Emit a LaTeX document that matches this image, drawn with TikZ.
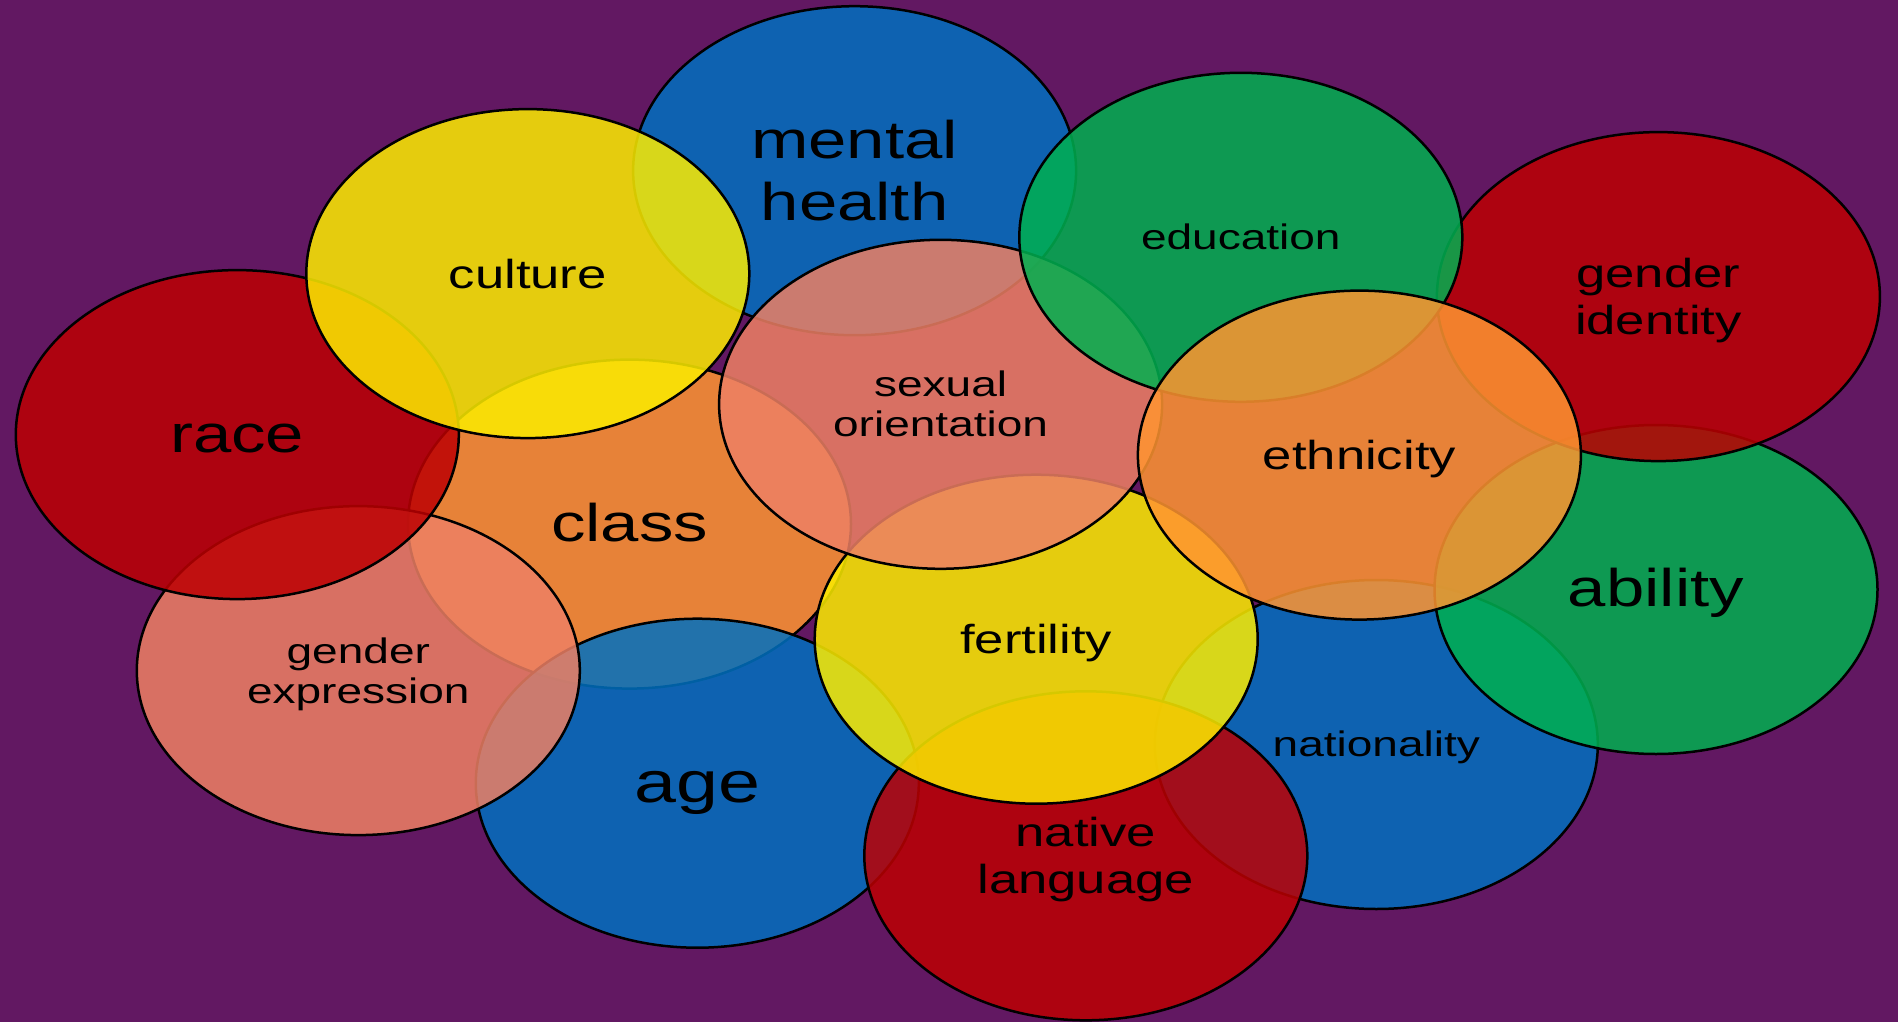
\documentclass[tikz,border=0pt]{standalone}
\usepackage{fontspec}
\newfontfamily\lblfont{Liberation Sans}[FakeStretch=1.3]
\usetikzlibrary{shapes.geometric}

\definecolor{bgpurple}{RGB}{98,24,98}
\definecolor{cblue}{RGB}{0,112,192}
\definecolor{cgreen}{RGB}{0,176,80}
\definecolor{cred}{RGB}{188,0,2}
\definecolor{cyellow}{RGB}{252,236,0}
\definecolor{corange}{RGB}{255,149,49}
\definecolor{csalmon}{RGB}{237,128,100}

\tikzset{
  blob/.style={ellipse, draw=black, line width=2.5pt, fill opacity=0.85,
    minimum width=443pt, minimum height=329pt, inner sep=0pt, outer sep=0pt},
  lbl/.style={anchor=base, text=black, inner sep=0pt},
  bigtxt/.style={lbl, font=\lblfont\fontsize{53}{62}\selectfont},
  hugetxt/.style={lbl, font=\lblfont\fontsize{58}{62}\selectfont},
  midtxt/.style={lbl, font=\lblfont\fontsize{40.5}{47.5}\selectfont},
  smalltxt/.style={lbl, font=\lblfont\fontsize{35.4}{40.5}\selectfont},
}

\begin{document}
\begin{tikzpicture}[x=1pt,y=-1pt]
\fill[bgpurple] (0,0) rectangle (1898,1022);
\useasboundingbox (0,0) rectangle (1898,1022);

% circles, from the bottom of the stack to the top
\node[blob, fill=corange] (class)     at (629.5,524.1)  {};
\node[blob, fill=cblue]   (mental)    at (854.6,170.7)  {};
\node[blob, fill=cblue]   (age)       at (697.3,783.2)  {};
\node[blob, fill=csalmon] (genexp)    at (358.3,670.6)  {};
\node[blob, fill=cred]    (race)      at (237.3,434.6)  {};
\node[blob, fill=cyellow] (culture)   at (527.8,273.6)  {};
\node[blob, fill=cblue]   (nation)    at (1376.3,744.5) {};
\node[blob, fill=cred]    (native)    at (1085.8,855.8) {};
\node[blob, fill=cyellow] (fertility) at (1036.2,639.2) {};
\node[blob, fill=csalmon] (sexor)     at (940.6,404.3)  {};
\node[blob, fill=cgreen]  (ability)   at (1656,589.5)   {};
\node[blob, fill=cred]    (genid)     at (1658.4,296.6) {};
\node[blob, fill=cgreen]  (edu)       at (1240.8,237.3) {};
\node[blob, fill=corange] (ethnic)    at (1359.4,455.1) {};

% labels, each line set on its own baseline
\node[bigtxt, yshift=12pt]     (tmentalA)   at (mental)    {mental};
\node[bigtxt, yshift=-49.5pt]  (tmentalB)   at (mental)    {health};
\node[bigtxt, yshift=-17.5pt]  (trace)      at (race)      {race};
\node[bigtxt, yshift=-17.5pt]  (tclass)     at (class)     {class};
\node[hugetxt, yshift=-19pt]   (tage)       at (age)       {age};
\node[bigtxt, yshift=-16.5pt]  (tability)   at (ability)   {ability};
\node[midtxt, yshift=-14.5pt]  (tculture)   at (culture)   {culture};
\node[midtxt, yshift=9.5pt]    (tgenidA)    at (genid)     {gender};
\node[midtxt, yshift=-38pt]    (tgenidB)    at (genid)     {identity};
\node[midtxt, yshift=-14pt]    (tethnic)    at (ethnic)    {ethnicity};
\node[midtxt, yshift=-14pt]    (tfertility) at (fertility) {fertility};
\node[midtxt, yshift=9.5pt]    (tnativeA)   at (native)    {native};
\node[midtxt, yshift=-38pt]    (tnativeB)   at (native)    {language};
\node[smalltxt, yshift=-12.2pt] (tedu)      at (edu)       {education};
\node[smalltxt, yshift=-12.2pt] (tnation)   at (nation)    {nationality};
\node[smalltxt, yshift=8pt]    (tsexorA)    at (sexor)     {sexual};
\node[smalltxt, yshift=-32.5pt] (tsexorB)   at (sexor)     {orientation};
\node[smalltxt, yshift=7.5pt]  (tgenexpA)   at (genexp)    {gender};
\node[smalltxt, yshift=-33pt]  (tgenexpB)   at (genexp)    {expression};
\end{tikzpicture}
\end{document}
